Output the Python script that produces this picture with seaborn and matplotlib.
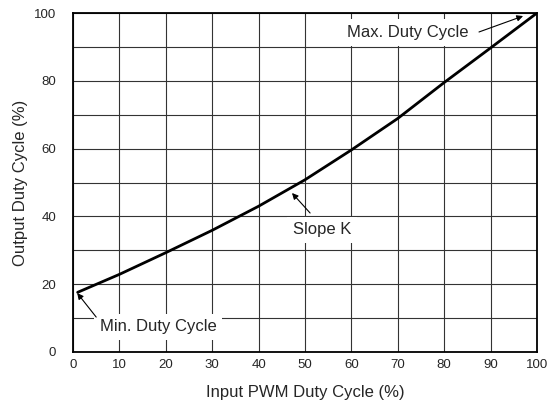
import matplotlib
matplotlib.use("Agg")
import matplotlib.pyplot as plt
import seaborn as sns
import pandas as pd

# Data
input_duty = [1, 10, 20, 30, 40, 50, 60, 70, 80, 90, 100]
output_duty = [17.6, 22.9, 29.3, 35.9, 43.0, 50.8, 59.6, 68.9, 79.5, 89.7, 100]
x_ticks = [0, 10, 20, 30, 40, 50, 60, 70, 80, 90, 100]
y_ticks = [0, 20, 40, 60, 80, 100]
y_minor = [10, 30, 50, 70, 90]

sns.set_style("white")
plt.rcParams['font.family'] = ['Liberation Sans', 'DejaVu Sans']

df = pd.DataFrame({"x": input_duty, "y": output_duty})

fig = plt.figure(figsize=(5.6, 4.07), dpi=100)
ax = fig.add_axes([73/560, 1-352/407, 464/560, 339/407])

sns.lineplot(data=df, x="x", y="y", ax=ax, color="black", linewidth=2.0, zorder=3)

ax.set_xlim(0, 100)
ax.set_ylim(0, 100)
ax.set_xticks(x_ticks)
ax.set_yticks(y_ticks)
ax.set_yticks(y_minor, minor=True)
ax.set_xticklabels([str(v) for v in x_ticks], fontsize=9.5)
ax.set_yticklabels([str(v) for v in y_ticks], fontsize=9.5)
ax.tick_params(axis='both', which='both', length=0)
ax.tick_params(axis='y', pad=12)
ax.tick_params(axis='x', pad=5)

ax.grid(True, which='both', color='#333333', linewidth=0.8, zorder=0)
ax.set_axisbelow(True)
for s in ax.spines.values():
    s.set_visible(True)
    s.set_color('black')
    s.set_linewidth(1.3)

ax.set_xlabel("Input PWM Duty Cycle (%)", fontsize=12)
ax.set_ylabel("Output Duty Cycle (%)", fontsize=12)
ax.xaxis.set_label_coords(0.5, -0.097)
ax.yaxis.set_label_coords(-0.097, 0.5)

box = dict(boxstyle='square,pad=0.35', facecolor='white', edgecolor='none')
arrow = dict(arrowstyle='-|>', color='black', lw=0.8, mutation_scale=9, shrinkA=0, shrinkB=0)

ax.text(72.1, 94.2, "Max. Duty Cycle", fontsize=12, ha='center', va='center', bbox=box, zorder=4)
ax.annotate("", xy=(97.0, 99.1), xytext=(87.5, 94.4), arrowprops=arrow, zorder=5)

ax.text(53.6, 36.0, "Slope K", fontsize=12, ha='center', va='center', bbox=box, zorder=4)
ax.annotate("", xy=(47.2, 46.9), xytext=(51.1, 41.0), arrowprops=arrow, zorder=5)

ax.text(18.3, 7.4, "Min. Duty Cycle", fontsize=12, ha='center', va='center', bbox=box, zorder=4)
ax.annotate("", xy=(0.9, 17.4), xytext=(5.0, 10.3), arrowprops=arrow, zorder=5)

fig.savefig("out.png", dpi=100)
